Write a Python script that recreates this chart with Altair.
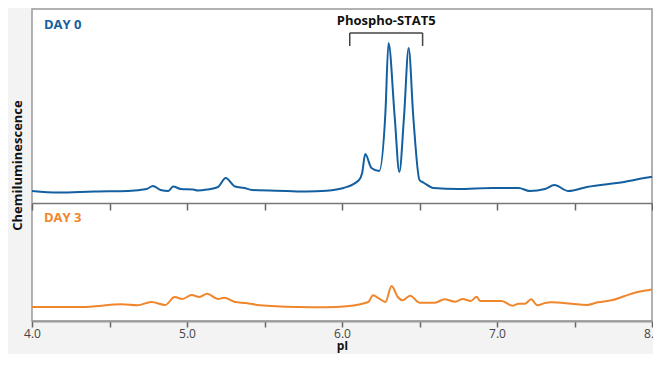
import altair as alt
import pandas as pd

# ---- data (arbitrary chemiluminescence units) ----
day0_pi = [4.00, 4.17, 4.40, 4.62, 4.74, 4.78, 4.83, 4.88, 4.91, 4.96, 5.04, 5.07, 5.13,
           5.20, 5.25, 5.31, 5.37, 5.42, 5.64, 5.77, 5.90, 6.01, 6.11, 6.13, 6.15, 6.19,
           6.24, 6.28, 6.30, 6.34, 6.37, 6.40, 6.43, 6.46, 6.50, 6.53, 6.59, 6.75, 6.97,
           7.14, 7.21, 7.31, 7.37, 7.46, 7.58, 7.82, 7.99, 8.00]
day0_sig = [6.0, 5.25, 5.75, 6.0, 7.0, 8.5, 6.5, 6.0, 8.25, 7.0, 6.75, 6.25, 6.75,
            8.0, 12.5, 8.25, 7.5, 6.5, 6.0, 5.75, 6.15, 7.5, 11.5, 15.0, 24.5, 17.5,
            16.0, 45.0, 80.0, 43.0, 15.5, 43.0, 77.5, 43.0, 11.5, 10.0, 7.5, 7.0, 7.5,
            7.5, 6.0, 7.0, 9.0, 6.0, 8.0, 10.5, 13.0, 13.1]

day3_pi = [4.00, 4.32, 4.58, 4.68, 4.77, 4.86, 4.92, 4.97, 5.03, 5.08, 5.13, 5.20, 5.24,
           5.31, 5.38, 5.47, 5.71, 5.90, 6.03, 6.17, 6.20, 6.24, 6.28, 6.32, 6.36, 6.39,
           6.44, 6.50, 6.60, 6.66, 6.73, 6.78, 6.83, 6.87, 6.89, 7.03, 7.10, 7.14, 7.18,
           7.22, 7.26, 7.31, 7.35, 7.48, 7.58, 7.65, 7.74, 7.82, 7.90, 7.99, 8.00]
day3_sig = [7.0, 7.0, 8.35, 7.85, 9.5, 8.0, 12.0, 11.0, 13.0, 12.0, 13.65, 11.0, 11.65,
            9.5, 9.0, 7.85, 7.0, 6.85, 7.35, 9.5, 12.85, 11.15, 9.5, 17.5, 12.0, 10.35,
            12.65, 9.15, 9.15, 10.85, 9.65, 11.0, 10.0, 12.15, 10.0, 10.0, 7.65, 8.65, 8.65,
            10.85, 7.85, 9.0, 9.35, 8.65, 8.0, 9.35, 10.35, 12.35, 14.35, 15.65, 15.8]

tick_values = [4.0, 4.5, 5.0, 5.5, 6.0, 6.5, 7.0, 7.5, 8.0]
bracket_pi = [6.05, 6.52]
annotation = "Phospho-STAT5"

BLUE = "#135fa0"
ORANGE = "#f0862c"
FONT = "Open Sans"

df0 = pd.DataFrame({"pI": day0_pi, "signal": day0_sig})
df3 = pd.DataFrame({"pI": day3_pi, "signal": day3_sig})
dfb = pd.DataFrame({"x": [bracket_pi[0]], "x2": [bracket_pi[1]]})
dfe = pd.DataFrame({"x": bracket_pi})
dft = pd.DataFrame({"x": [sum(bracket_pi) / 2], "label": [annotation]})

xscale = alt.Scale(domain=[4, 8], nice=False, zero=False)

top = alt.Chart(df0).mark_line(color=BLUE, strokeWidth=2, interpolate="monotone").encode(
    x=alt.X("pI:Q", scale=xscale,
            axis=alt.Axis(orient="bottom", values=tick_values, labels=False, title=None,
                          offset=-118, tickSize=7, tickColor="#666", domainColor="#777",
                          domainWidth=1.5, tickWidth=1.5, grid=False)),
    y=alt.Y("signal:Q", scale=alt.Scale(domain=[-59, 97], nice=False, zero=False), axis=None),
)

bottom = alt.Chart(df3).mark_line(color=ORANGE, strokeWidth=2, interpolate="monotone").encode(
    x=alt.X("pI:Q", scale=xscale,
            axis=alt.Axis(orient="bottom", values=tick_values, title="pI", tickSize=6,
                          tickColor="#666", tickWidth=1.5, domainColor="#999", domainWidth=2,
                          labelExpr="datum.value % 1 === 0 ? format(datum.value, '.1f') : ''",
                          labelFlush=False,
                          labelFont=FONT, labelFontSize=12, labelColor="#444",
                          labelPadding=1, titleFont=FONT, titleFontSize=12,
                          titleFontWeight="bold", titleColor="#111", titlePadding=1,
                          grid=False)),
    y=alt.Y("signal:Q", scale=alt.Scale(domain=[0, 156], nice=False, zero=False),
            axis=alt.Axis(title="Chemiluminescence", labels=False, ticks=False,
                          domain=False, grid=False, titleFont=FONT, titleFontSize=13,
                          titleFontWeight="bold", titleColor="#111", titlePadding=8)),
)

bracket_h = alt.Chart(dfb).mark_rule(color="#444", strokeWidth=1.5).encode(
    x=alt.X("x:Q", scale=xscale, axis=None), x2="x2:Q", y=alt.value(24))
bracket_v = alt.Chart(dfe).mark_rule(color="#444", strokeWidth=1.5).encode(
    x=alt.X("x:Q", scale=xscale, axis=None), y=alt.value(24), y2=alt.value(37))
label = alt.Chart(dft).mark_text(font=FONT, fontSize=13, fontWeight="bold", color="#111",
                                 baseline="middle").encode(
    x=alt.X("x:Q", scale=xscale, axis=None), y=alt.value(12), text="label:N")

day0 = alt.Chart(pd.DataFrame({"t": ["DAY 0"]})).mark_text(
    font=FONT, fontSize=13, fontWeight="bold", color=BLUE, align="left", baseline="middle"
).encode(x=alt.value(12), y=alt.value(16), text="t:N")
day3 = alt.Chart(pd.DataFrame({"t": ["DAY 3"]})).mark_text(
    font=FONT, fontSize=13, fontWeight="bold", color=ORANGE, align="left", baseline="middle"
).encode(x=alt.value(12), y=alt.value(209), text="t:N")

chart = alt.layer(top, bottom, bracket_h, bracket_v, label, day0, day3).resolve_scale(
    y="independent"
).resolve_axis(x="independent", y="independent").properties(
    width=620, height=312,
    autosize=alt.AutoSizeParams(type="none"),
    padding={"left": 24, "top": 1, "right": 1, "bottom": 33},
    background="#f3f3f3",
).configure_view(fill="white", stroke="#9a9a9a", strokeWidth=1.5)

chart.save("out.html", embed_options={"renderer": "svg", "actions": False})
